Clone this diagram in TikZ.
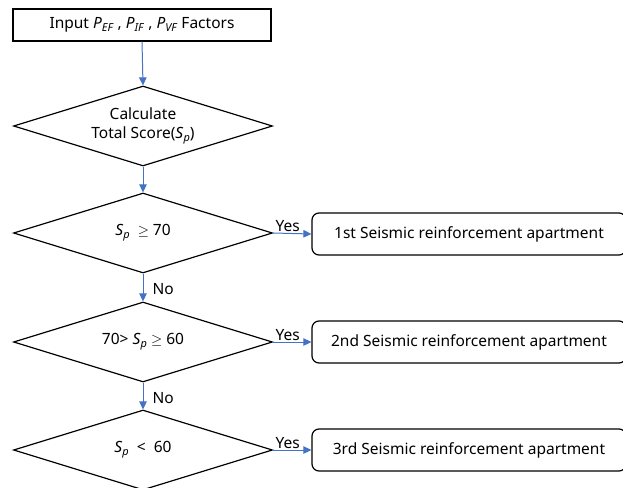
\documentclass[tikz,border=0pt]{standalone}
\usepackage{fontspec}
\setmainfont{Noto Sans}
\usetikzlibrary{shapes.geometric,arrows.meta}
\newcommand{\vsub}[2]{\textit{#1}\raisebox{-0.35ex}{\fontsize{11}{12}\selectfont\textit{#2}}}
\definecolor{arrowblue}{RGB}{68,114,196}
\tikzset{
  procbox/.style={draw=black,line width=1.2pt,minimum width=258pt,minimum height=32pt,inner sep=0pt},
  decision/.style={draw=black,line width=1.2pt,diamond,aspect=3.24,minimum width=259pt,minimum height=80pt,inner sep=0pt,align=center},
  resultbox/.style={draw=black,line width=1.2pt,rounded corners=7pt,minimum width=314pt,minimum height=42pt,inner sep=0pt},
  flow/.style={draw=arrowblue,line width=1pt,-{Triangle[length=8pt,width=7.5pt]}},
  lbl/.style={font=\fontsize{15.5}{18}\selectfont,inner sep=1pt}
}
\begin{document}
\begin{tikzpicture}[x=1pt,y=-1pt,font=\fontsize{15.5}{19}\selectfont]
\useasboundingbox (0,0) rectangle (623,487);
\node[procbox] (inp) at (142,25) {Input \vsub{P}{EF} , \vsub{P}{IF} , \vsub{P}{VF} Factors};
\node[decision] (d1) at (143,126) {Calculate\\Total Score(\vsub{S}{p})};
\node[decision] (d2) at (143,233) {\vsub{S}{p}\ \ $\geq$ 70};
\node[decision] (d3) at (143,342) {70>\ \vsub{S}{p} $\geq$\ 60};
\node[decision] (d4) at (143,450) {\vsub{S}{p}\ \ <\ \ 60};
\node[resultbox] (r1) at (469,234) {1st Seismic reinforcement apartment\hspace{4pt}};
\node[resultbox] (r2) at (469,342) {2nd Seismic reinforcement apartment\hspace{4pt}};
\node[resultbox] (r3) at (469,450) {3rd Seismic reinforcement apartment\hspace{4pt}};
\draw[flow] (inp.south) -- (d1.north);
\draw[flow] (d1.south) -- (d2.north);
\draw[flow] (d2.south) -- node[lbl,right,xshift=8pt,yshift=-2pt] {No} (d3.north);
\draw[flow] (d3.south) -- node[lbl,right,xshift=8pt,yshift=-2pt] {No} (d4.north);
\draw[flow] (d2.east) -- node[lbl,above,pos=0.38] {Yes} (r1.west);
\draw[flow] (d3.east) -- node[lbl,above,pos=0.38] {Yes} (r2.west);
\draw[flow] (d4.east) -- node[lbl,above,pos=0.38] {Yes} (r3.west);
\end{tikzpicture}
\end{document}
